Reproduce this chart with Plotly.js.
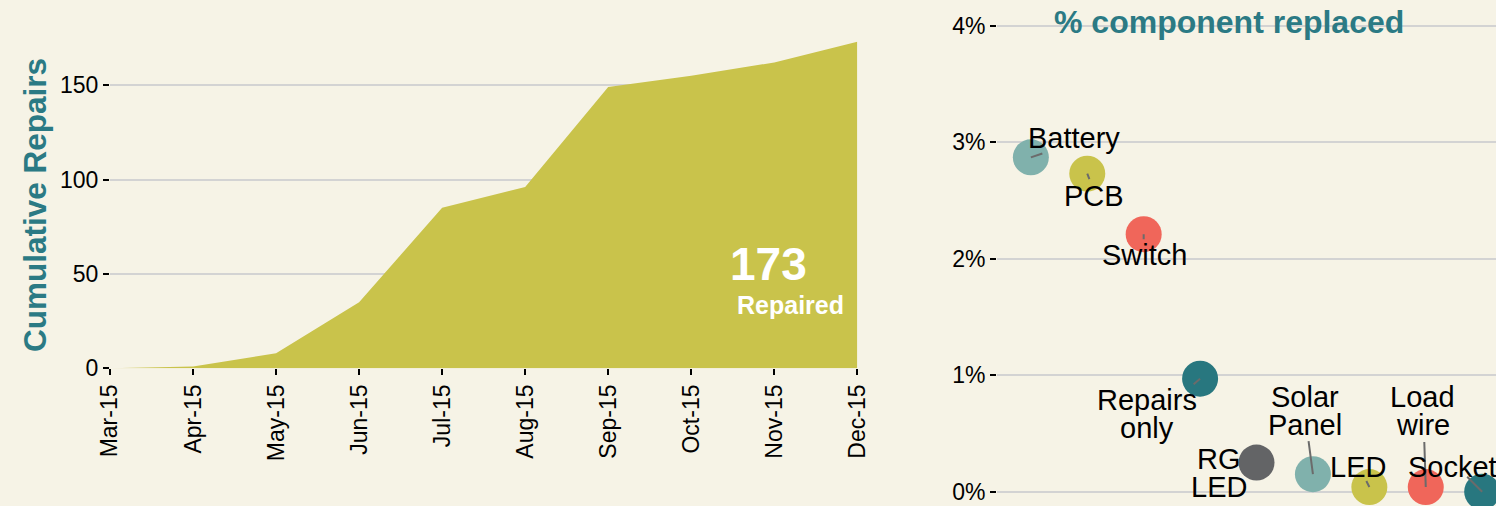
<!DOCTYPE html>
<html>
<head>
<meta charset="utf-8">
<script src="https://cdn.plot.ly/plotly-3.0.1.min.js"></script>
<style>html,body{margin:0;padding:0;background:#F6F3E6;}#chart{width:1496px;height:506px;}</style>
</head>
<body>
<div id="chart"></div>
<script>
// ---- data ----
const months = ['Mar-15','Apr-15','May-15','Jun-15','Jul-15','Aug-15','Sep-15','Oct-15','Nov-15','Dec-15'];
const cumulativeRepairs = [0, 1, 8, 35, 85, 96, 149, 155, 162, 173];
const components = ['Battery','PCB','Switch','Repairs only','RG LED','Solar Panel','LED','Load wire','Socket'];
const pctReplaced = [2.87, 2.73, 2.21, 0.97, 0.25, 0.15, 0.04, 0.04, 0.0];
const leftYTicks = [0, 50, 100, 150];
const rightYTicks = [0, 1, 2, 3, 4];

// ---- styling / layout config ----
const W = 1496, H = 506;
const BG = '#F6F3E6';
const FONT = 'Liberation Sans, Arial, sans-serif';
const TEAL_TITLE = '#2B7A84';
const AREA = '#C9C34B';
const palette = ['#80B1AC', '#C9C34B', '#F0665A', '#28777F', '#636466'];
const GRID = '#D3D3D3';

// label placement (pixel offsets of text-block centre and segment start from each point)
const labelOffsets = [[43,-19],[7,22],[1,21],[-53,35],[-38,10],[-8,-63],[-11,-20],[-3,-76],[-30,-25]];
const segStarts = [[12,-4],[2.5,6.5],[0,6],[-7,6],null,[-4.5,-34],[-3.5,-7],[-1.5,-46],[-15.5,-15.5]];
const LINE_GAP = 28;

const px = x => x / W;
const py = y => 1 - y / H;

const traces = [
  {
    type: 'scatter', mode: 'lines',
    x: months, y: cumulativeRepairs,
    fill: 'tozeroy', fillcolor: AREA,
    line: {width: 0, color: AREA},
    xaxis: 'x', yaxis: 'y', hoverinfo: 'skip', showlegend: false
  },
  {
    type: 'scatter', mode: 'markers',
    x: components, y: pctReplaced,
    marker: {size: 36, color: components.map((c, i) => palette[i % palette.length]), line: {width: 0}},
    xaxis: 'x2', yaxis: 'y2', cliponaxis: false, hoverinfo: 'skip', showlegend: false
  }
];

const annotations = [];
// segments first (drawn under text)
components.forEach((c, i) => {
  const s = segStarts[i];
  if (!s) return;
  annotations.push({
    xref: 'x2', yref: 'y2', x: c, y: pctReplaced[i],
    ax: s[0], ay: s[1], text: ' ', font: {size: 1, color: 'rgba(0,0,0,0)'},
    showarrow: true, arrowhead: 0, arrowwidth: 2, arrowcolor: '#6B6B6B', standoff: 0, borderpad: 0
  });
});
// text labels, one annotation per line
components.forEach((c, i) => {
  const lines = c.split(' ');
  const n = lines.length;
  lines.forEach((ln, k) => {
    annotations.push({
      xref: 'x2', yref: 'y2', x: c, y: pctReplaced[i],
      xshift: labelOffsets[i][0],
      yshift: -(labelOffsets[i][1] + (k - (n - 1) / 2) * LINE_GAP),
      text: ln, showarrow: false, xanchor: 'center', yanchor: 'middle',
      font: {family: FONT, size: 29, color: '#000'}
    });
  });
});
// left axis title
annotations.push({
  xref: 'paper', yref: 'paper', x: px(35), y: py(205), xanchor: 'center', yanchor: 'middle',
  text: '<b>Cumulative Repairs</b>', textangle: -90, showarrow: false,
  font: {family: FONT, size: 31.5, color: TEAL_TITLE}
});
// big total
annotations.push({
  xref: 'paper', yref: 'paper', x: px(768), y: py(264), xanchor: 'center', yanchor: 'middle',
  text: '<b>' + cumulativeRepairs[cumulativeRepairs.length - 1] + '</b>', showarrow: false,
  font: {family: FONT, size: 46, color: '#FFFFFF'}
});
annotations.push({
  xref: 'paper', yref: 'paper', x: px(791), y: py(305), xanchor: 'center', yanchor: 'middle',
  text: '<b>Repaired</b>', showarrow: false,
  font: {family: FONT, size: 25, color: '#FFFFFF'}
});
// right title
annotations.push({
  xref: 'paper', yref: 'paper', x: px(1229), y: py(22), xanchor: 'center', yanchor: 'middle',
  text: '<b>% component replaced</b>', showarrow: false,
  font: {family: FONT, size: 32, color: TEAL_TITLE}
});

const tickFont = {family: FONT, size: 23, color: '#000'};

const layout = {
  width: W, height: H,
  margin: {l: 0, r: 0, t: 0, b: 0, pad: 0},
  paper_bgcolor: BG, plot_bgcolor: BG,
  font: {family: FONT},
  showlegend: false,
  xaxis: {
    domain: [px(110), px(857.3)], anchor: 'y',
    type: 'category', range: [0, months.length - 1],
    showgrid: false, zeroline: false, showline: false,
    ticks: 'outside', ticklen: 6, tickwidth: 2, tickcolor: '#000',
    tickangle: -90, tickfont: tickFont, fixedrange: true
  },
  yaxis: {
    domain: [py(368.3), py(28.46)], anchor: 'x',
    range: [0, 180], tickvals: leftYTicks, ticktext: leftYTicks.map(String),
    showgrid: true, gridcolor: GRID, gridwidth: 2, zeroline: false, showline: false,
    ticks: 'outside', ticklen: 6, tickwidth: 2, tickcolor: '#000',
    tickfont: tickFont, fixedrange: true
  },
  xaxis2: {
    domain: [px(997), 1], anchor: 'y2',
    type: 'category', range: [-0.6, 8.245],
    showgrid: false, zeroline: false, showline: false, showticklabels: false, ticks: '',
    fixedrange: true
  },
  yaxis2: {
    domain: [0, 1], anchor: 'x2',
    range: [-0.1227, 4.2206], tickvals: rightYTicks, ticktext: rightYTicks.map(v => v + '%'),
    showgrid: true, gridcolor: GRID, gridwidth: 2, zeroline: false, showline: false,
    ticks: 'outside', ticklen: 6, tickwidth: 2, tickcolor: '#000',
    tickfont: tickFont, fixedrange: true
  },
  annotations: annotations
};

Plotly.newPlot('chart', traces, layout, {displayModeBar: false, staticPlot: true});
</script>
</body>
</html>
